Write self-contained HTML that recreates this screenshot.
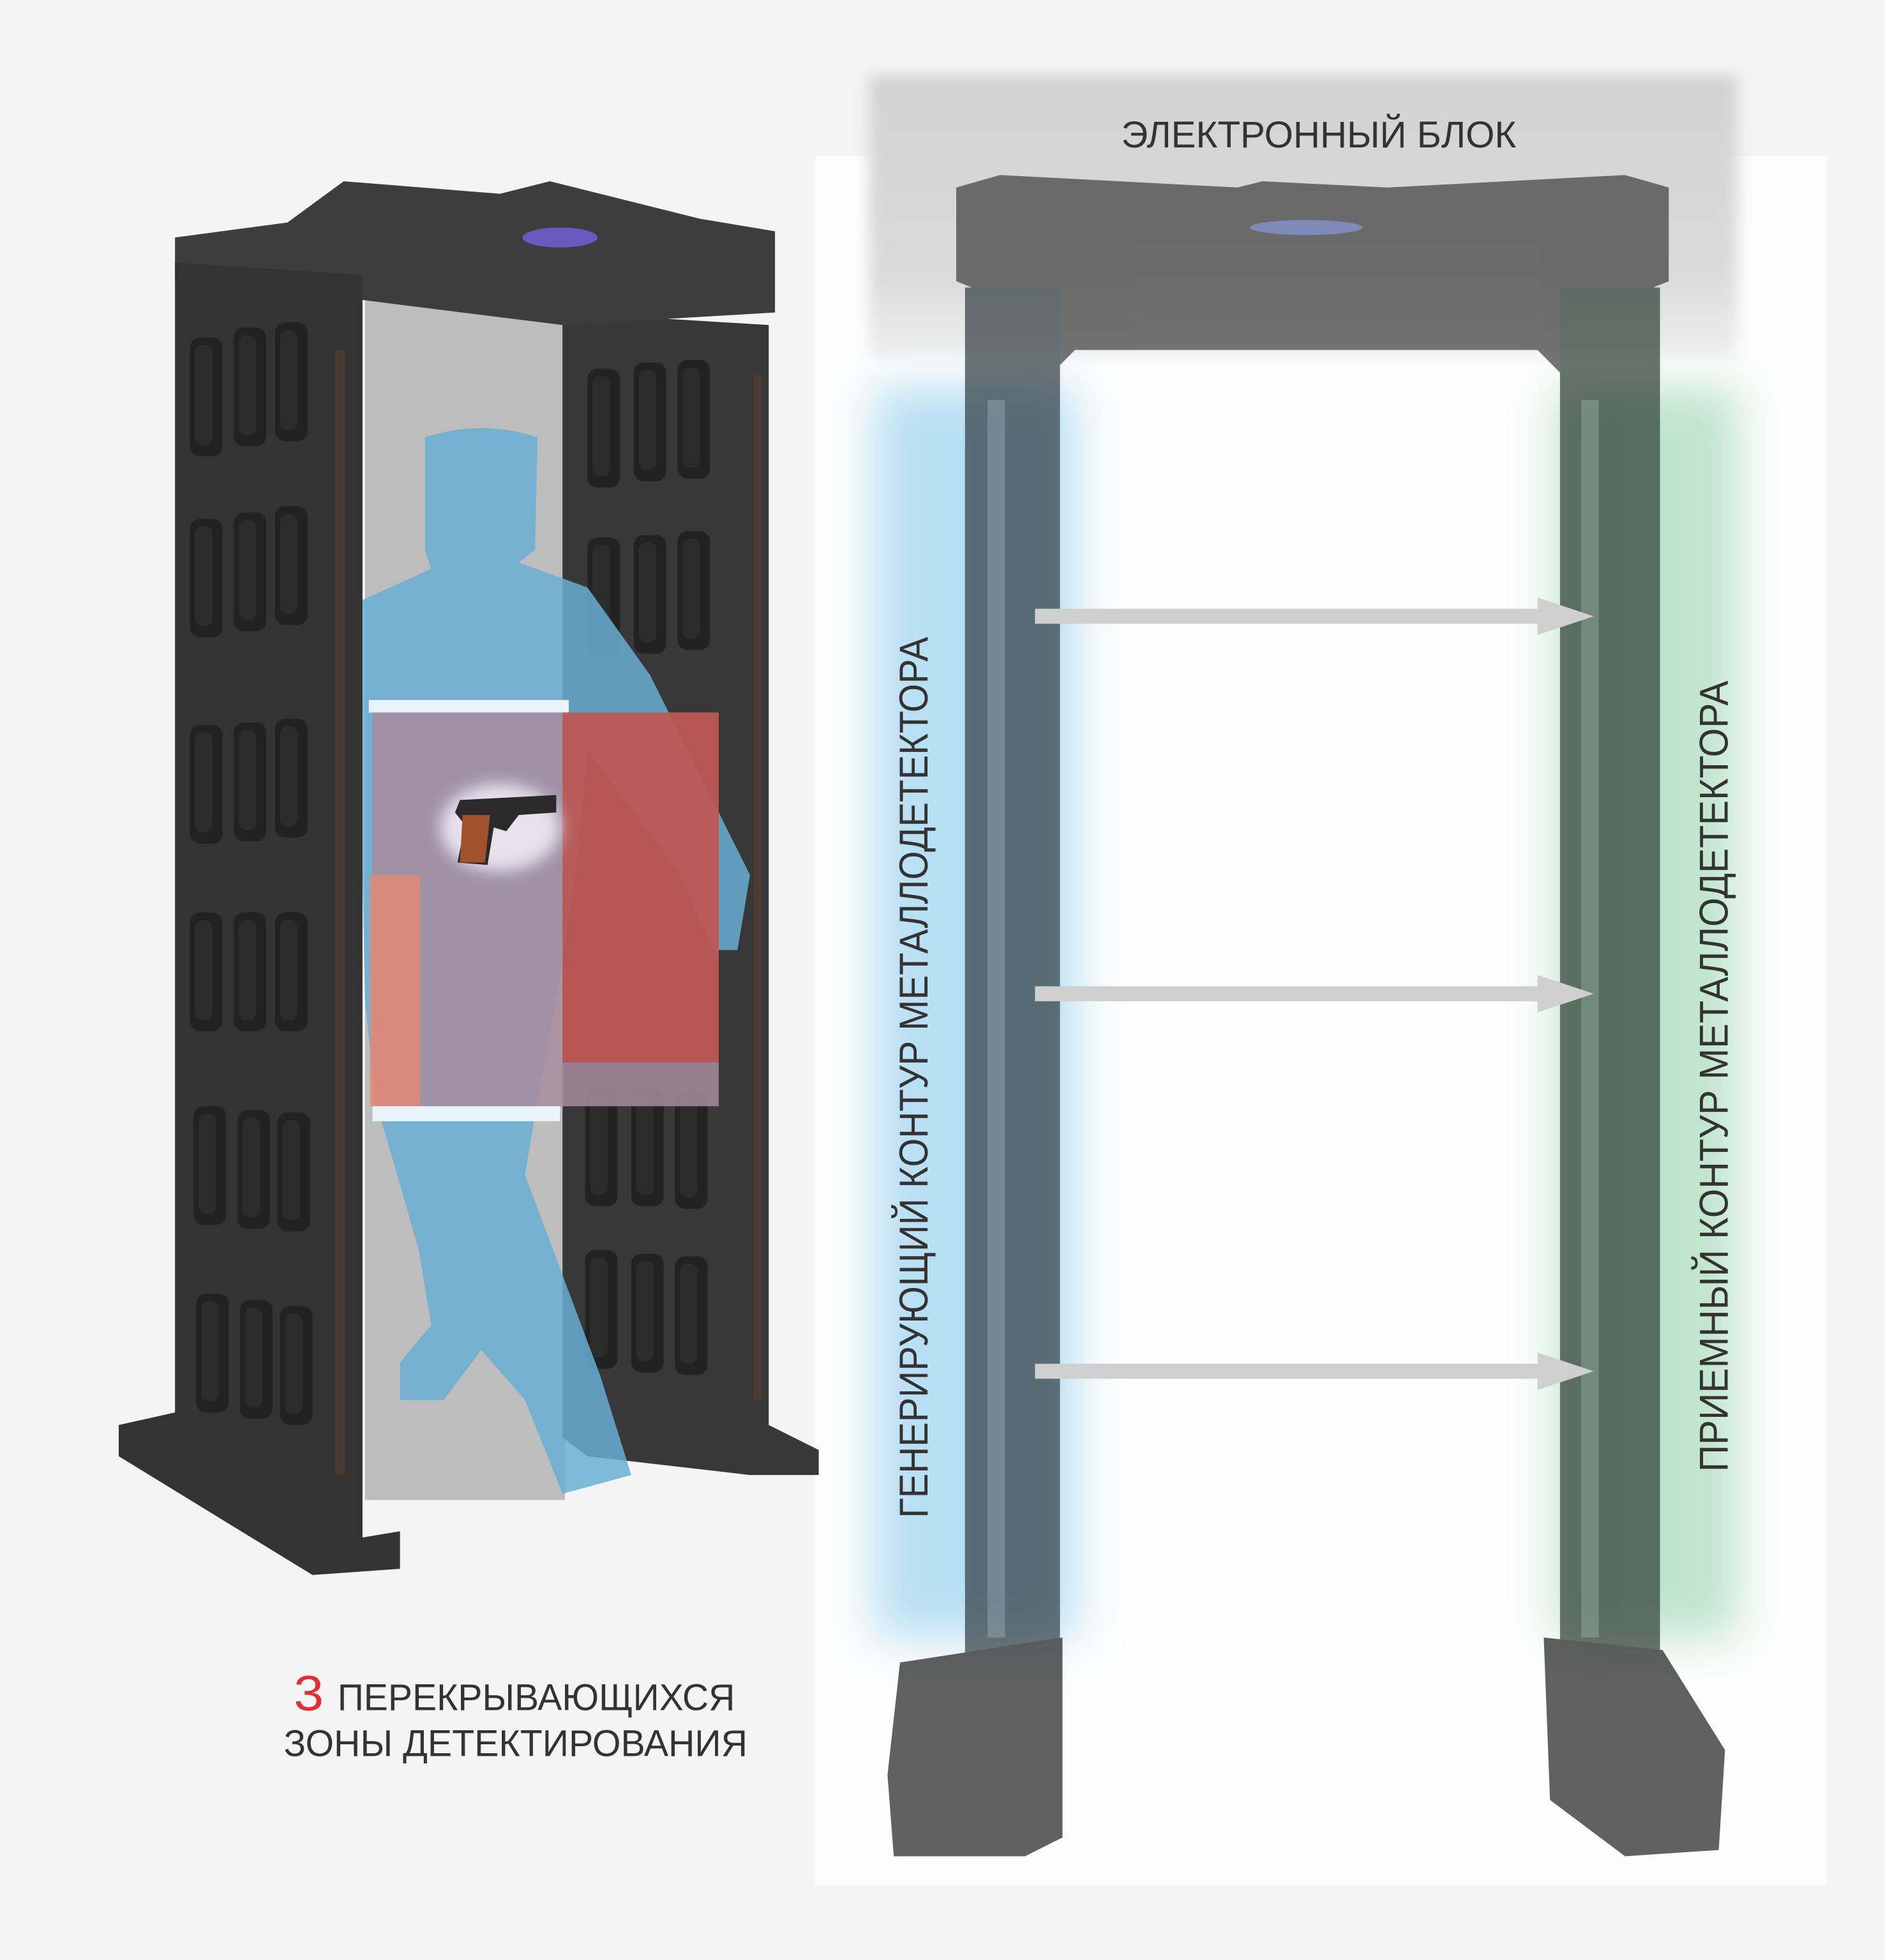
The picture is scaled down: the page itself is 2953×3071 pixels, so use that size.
<!DOCTYPE html>
<html><head><meta charset="utf-8"><style>
html,body{margin:0;padding:0;background:#f4f4f4;}
svg{display:block;}
text{font-family:"Liberation Sans","DejaVu Sans",sans-serif;fill:#333;}
</style></head><body>
<svg width="2953" height="3071" viewBox="0 0 1508 1568" preserveAspectRatio="none" xmlns="http://www.w3.org/2000/svg">
<defs>
<filter id="b1" x="-50%" y="-50%" width="200%" height="200%"><feGaussianBlur stdDeviation="18"/></filter>
<filter id="b2" x="-50%" y="-50%" width="200%" height="200%"><feGaussianBlur stdDeviation="6"/></filter>
<linearGradient id="gtop" x1="0" y1="0" x2="0" y2="1"><stop offset="0" stop-color="#d2d2d2"/><stop offset="0.7" stop-color="#dadada"/><stop offset="1" stop-color="#eeeeee"/></linearGradient>
<g id="win"><rect x="0" y="0" width="26" height="95" rx="8" fill="#222"/><rect x="4" y="6" width="14" height="80" rx="6" fill="#2c2c2c"/></g>
</defs>
<rect width="1508" height="1568" fill="#f4f4f4"/>
<rect x="652" y="125" width="810" height="1383" fill="#fdfdfd"/>
<rect x="695" y="60" width="695" height="225" fill="url(#gtop)" filter="url(#b2)"/>
<rect x="700" y="310" width="160" height="1000" fill="#b7dff3" filter="url(#b1)"/>
<rect x="1245" y="310" width="145" height="1000" fill="#bfe4cc" filter="url(#b1)"/>
<g opacity="0.7">
<path d="M765 150 L800 140 L990 150 L1010 145 L1110 150 L1300 140 L1335 150 L1335 225 L1310 235 L1300 300 L1250 300 L1230 280 L860 280 L840 300 L800 300 L790 235 L765 225 Z" fill="#3c3c3c"/>
<rect x="772" y="230" width="76" height="1100" fill="#2e3a40"/>
<rect x="1248" y="230" width="80" height="1100" fill="#2b3a33"/>
<rect x="790" y="320" width="14" height="990" fill="#55626a"/>
<rect x="1265" y="320" width="14" height="990" fill="#506458"/>
<path d="M720 1330 L850 1310 L850 1470 L820 1485 L715 1485 L710 1420 Z" fill="#1e1e1e"/>
<path d="M1235 1310 L1330 1320 L1380 1400 L1375 1480 L1300 1485 L1240 1440 Z" fill="#1e1e1e"/>
<ellipse cx="1045" cy="182" rx="45" ry="6" fill="#5a6ab0"/>
</g>
<g fill="#cfcfcf">
<rect x="828" y="487" width="410" height="12"/><polygon points="1230,478 1275,493 1230,508"/>
<rect x="828" y="789" width="410" height="12"/><polygon points="1230,780 1275,795 1230,810"/>
<rect x="828" y="1091" width="410" height="12"/><polygon points="1230,1082 1275,1097 1230,1112"/>
</g>
<rect x="292" y="235" width="160" height="965" fill="#bdbdbd"/>
<path d="M450 250 L615 260 L615 1140 L655 1160 L655 1180 L600 1180 L470 1165 L450 1150 Z" fill="#383838"/>
<path d="M140 190 L230 178 L275 145 L400 155 L440 145 L500 160 L560 175 L620 185 L620 250 L450 260 L290 240 L140 225 Z" fill="#3d3d3d"/>
<ellipse cx="448" cy="190" rx="30" ry="8" fill="#6a5ac0"/>
<path d="M140 210 L290 220 L290 1230 L320 1225 L320 1255 L250 1260 L95 1165 L95 1140 L140 1130 Z" fill="#333"/>
<g>
<use href="#win" x="152" y="270"/><use href="#win" x="187" y="262"/><use href="#win" x="220" y="258"/>
<use href="#win" x="152" y="415"/><use href="#win" x="187" y="410"/><use href="#win" x="220" y="405"/>
<use href="#win" x="152" y="580"/><use href="#win" x="187" y="578"/><use href="#win" x="220" y="575"/>
<use href="#win" x="152" y="730"/><use href="#win" x="187" y="730"/><use href="#win" x="220" y="730"/>
<use href="#win" x="155" y="885"/><use href="#win" x="190" y="888"/><use href="#win" x="222" y="890"/>
<use href="#win" x="157" y="1035"/><use href="#win" x="192" y="1040"/><use href="#win" x="224" y="1045"/>
<use href="#win" x="470" y="295"/><use href="#win" x="507" y="290"/><use href="#win" x="542" y="288"/>
<use href="#win" x="470" y="430"/><use href="#win" x="507" y="428"/><use href="#win" x="542" y="425"/>
<use href="#win" x="468" y="870"/><use href="#win" x="505" y="870"/><use href="#win" x="540" y="872"/>
<use href="#win" x="468" y="1000"/><use href="#win" x="505" y="1003"/><use href="#win" x="540" y="1005"/>
</g>
<rect x="268" y="280" width="8" height="900" fill="#5a4030" opacity="0.6"/>
<rect x="603" y="300" width="6" height="820" fill="#5a4030" opacity="0.6"/>
<path d="M340 350 Q385 335 430 350 L428 440 L415 450 L470 470 L520 540 L600 700 L590 760 L570 760 L545 700 L470 600 L460 700 L445 800 L430 880 L420 940 L480 1100 L505 1180 L450 1195 L420 1120 L385 1080 L355 1120 L320 1120 L320 1090 L345 1060 L335 1000 L315 930 L300 880 L292 800 L290 700 L290 480 L345 455 L340 440 Z" fill="#68aed3" opacity="0.85"/>
<rect x="295" y="560" width="160" height="10" fill="#e8f4fa"/>
<rect x="298" y="570" width="277" height="315" fill="#a88ca0" opacity="0.85"/>
<rect x="450" y="570" width="125" height="280" fill="#c24a40" opacity="0.75"/>
<rect x="296" y="700" width="40" height="185" fill="#e58870" opacity="0.8"/>
<rect x="298" y="885" width="150" height="12" fill="#e8f4fa"/>
<ellipse cx="400" cy="662" rx="48" ry="35" fill="#e8e0ec" filter="url(#b2)"/>
<path d="M368 640 L445 636 L445 650 L415 652 L405 665 L395 662 L390 692 L366 690 L372 660 L364 650 Z" fill="#2a2a2a"/>
<path d="M370 652 L392 652 L388 690 L368 690 Z" fill="#a0522d"/>
<text x="1055" y="118" font-size="30" text-anchor="middle" textLength="316" lengthAdjust="spacingAndGlyphs">ЭЛЕКТРОННЫЙ БЛОК</text>
<text transform="translate(742,862) rotate(-90)" font-size="32" text-anchor="middle" textLength="705" lengthAdjust="spacingAndGlyphs">ГЕНЕРИРУЮЩИЙ КОНТУР МЕТАЛЛОДЕТЕКТОРА</text>
<text transform="translate(1382,861) rotate(-90)" font-size="32" text-anchor="middle" textLength="633" lengthAdjust="spacingAndGlyphs">ПРИЕМНЫЙ КОНТУР МЕТАЛЛОДЕТЕКТОРА</text>
<text x="235" y="1368" font-size="40" style="fill:#e03035" textLength="24" lengthAdjust="spacingAndGlyphs">3</text>
<text x="270" y="1368" font-size="30" textLength="318" lengthAdjust="spacingAndGlyphs">ПЕРЕКРЫВАЮЩИХСЯ</text>
<text x="227" y="1405" font-size="30" textLength="371" lengthAdjust="spacingAndGlyphs">ЗОНЫ ДЕТЕКТИРОВАНИЯ</text>
</svg>
</body></html>
